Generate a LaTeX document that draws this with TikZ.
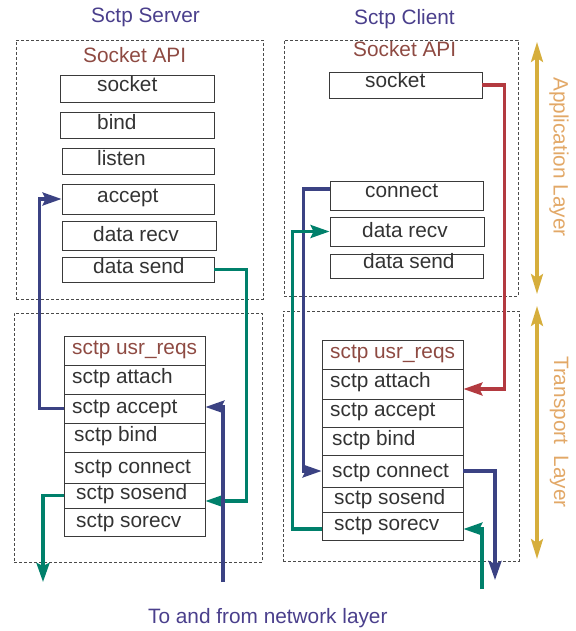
\documentclass[tikz,border=0pt]{standalone}
\usepackage{fontspec}
\setmainfont{Liberation Sans}
\usetikzlibrary{fit,arrows.meta}

\definecolor{titleblue}{HTML}{4A3F8C}
\definecolor{apired}{HTML}{8E4A42}
\definecolor{navyline}{HTML}{3B4283}
\definecolor{greenline}{HTML}{00806B}
\definecolor{redline}{HTML}{B33A40}
\definecolor{goldline}{HTML}{D6AE3C}
\definecolor{layertext}{HTML}{E2A867}
\definecolor{textgray}{HTML}{333333}
\definecolor{boxgray}{HTML}{3A3A3A}
\definecolor{dashgray}{HTML}{4A4A4A}

\begin{document}
\begin{tikzpicture}[x=1pt,y=-1pt,
  every node/.style={font=\fontsize{20.8}{24}\selectfont},
  txt/.style={anchor=base west, inner sep=0pt, text=textgray},
  apibox/.style={draw=boxgray, line width=0.9pt, inner sep=0pt},
  rowbox/.style={draw=boxgray, line width=0.9pt, inner sep=0pt},
  layerbox/.style={draw=dashgray, dash pattern=on 3pt off 2pt, line width=0.8pt, inner sep=0pt},
  conn/.style={line width=3.2pt, -{Stealth[length=19pt,width=13pt,inset=3pt]}},
  navyconn/.style={conn, draw=navyline},
  greenconn/.style={conn, draw=greenline},
  redconn/.style={conn, draw=redline},
  goldarrow/.style={line width=3.2pt, draw=goldline,
    {Stealth[length=20pt,width=12pt,inset=4pt]}-{Stealth[length=20pt,width=12pt,inset=4pt]}},
  layerlabel/.style={rotate=-90, text=layertext, inner sep=0pt}
]
\useasboundingbox (0,0) rectangle (575,631);

% ---------- titles ----------
\node[txt, text=titleblue] (srvTitle) at (91,23) {Sctp Server};
\node[txt, text=titleblue] (cliTitle) at (354,25) {Sctp Client};

% ---------- layer frames ----------
\node[layerbox, fit={(16,40) (263,299)}] (srvApp) {};
\node[layerbox, fit={(14,313) (262,562)}] (srvTr) {};
\node[layerbox, fit={(284,40) (518,296)}] (cliApp) {};
\node[layerbox, fit={(283,311) (519,561)}] (cliTr) {};

\node[txt, text=apired] (srvApi) at (83,63) {Socket API};
\node[txt, text=apired] (cliApi) at (353,57) {Socket API};

% ---------- server socket calls ----------
\node[apibox, fit={(60,75) (214,102)}] (aSocket) {};
\node[txt] (aSocketT) at (97,92) {socket};
\node[apibox, fit={(60,112) (214,138)}] (aBind) {};
\node[txt] (aBindT) at (97,130) {bind};
\node[apibox, fit={(62,148) (214,174)}] (aListen) {};
\node[txt] (aListenT) at (97,166) {listen};
\node[apibox, fit={(62,184) (214,214)}] (aAccept) {};
\node[txt] (aAcceptT) at (97,202) {accept};
\node[apibox, fit={(62,221) (216,250)}] (aRecv) {};
\node[txt] (aRecvT) at (93,241) {data recv};
\node[apibox, fit={(62,257) (214,282)}] (aSend) {};
\node[txt] (aSendT) at (93,273) {data send};

% ---------- client socket calls ----------
\node[apibox, fit={(329,72) (482,98)}] (bSocket) {};
\node[txt] (bSocketT) at (365,88) {socket};
\node[apibox, fit={(330,181) (483,210)}] (bConnect) {};
\node[txt] (bConnectT) at (365,197) {connect};
\node[apibox, fit={(330,217) (484,246)}] (bRecv) {};
\node[txt] (bRecvT) at (362,237) {data recv};
\node[apibox, fit={(330,254) (483,278)}] (bSend) {};
\node[txt] (bSendT) at (363,268) {data send};

% ---------- server transport stack ----------
\node[rowbox, fit={(64,336) (205,365)}] (sReq) {};
\node[rowbox, fit={(64,365) (205,394)}] (sAttach) {};
\node[rowbox, fit={(64,394) (205,423)}] (sAccept) {};
\node[rowbox, fit={(64,423) (205,452)}] (sBind) {};
\node[rowbox, fit={(64,452) (205,483)}] (sConnect) {};
\node[rowbox, fit={(64,483) (205,508)}] (sSosend) {};
\node[rowbox, fit={(64,508) (205,536)}] (sSorecv) {};
\node[txt, text=apired] (sReqT) at (72,354) {sctp usr\_reqs};
\node[txt] (sAttachT) at (72,383) {sctp attach};
\node[txt] (sAcceptT) at (72,413) {sctp accept};
\node[txt] (sBindT) at (74,441) {sctp bind};
\node[txt] (sConnectT) at (74,473) {sctp connect};
\node[txt] (sSosendT) at (76,499) {sctp sosend};
\node[txt] (sSorecvT) at (76,527) {sctp sorecv};

% ---------- client transport stack ----------
\node[rowbox, fit={(322,340) (463,369)}] (cReq) {};
\node[rowbox, fit={(322,369) (463,399)}] (cAttach) {};
\node[rowbox, fit={(322,399) (463,427)}] (cAccept) {};
\node[rowbox, fit={(322,427) (463,455)}] (cBind) {};
\node[rowbox, fit={(322,455) (463,487)}] (cConnect) {};
\node[rowbox, fit={(322,487) (463,512)}] (cSosend) {};
\node[rowbox, fit={(322,512) (463,540)}] (cSorecv) {};
\node[txt, text=apired] (cReqT) at (330,358) {sctp usr\_reqs};
\node[txt] (cAttachT) at (330,387) {sctp attach};
\node[txt] (cAcceptT) at (330,416) {sctp accept};
\node[txt] (cBindT) at (332,445) {sctp bind};
\node[txt] (cConnectT) at (332,477) {sctp connect};
\node[txt] (cSosendT) at (334,504) {sctp sosend};
\node[txt] (cSorecvT) at (334,530) {sctp sorecv};

% ---------- open ends towards the network layer ----------
\coordinate (sOut) at (43,582);
\coordinate (sIn) at (223,582);
\coordinate (cOut) at (495,580);
\coordinate (cIn) at (482,589);

% ---------- server connectors ----------
\draw[navyconn] (sAccept.west) -- ++(-24,0) |- (aAccept.west);
\draw[greenconn] (aSend.east) -| ([xshift=41pt,yshift=-5.5pt]sSosend.east)
  -- ([yshift=-5.5pt]sSosend.east);
\draw[greenconn] (sSosend.west) -| (sOut);
\draw[navyconn] (sIn) |- ([yshift=1.5pt]sAccept.east);

% ---------- client connectors ----------
\draw[redconn] (bSocket.east) -| ([xshift=41pt,yshift=-5pt]cAttach.east)
  -- ([yshift=-5pt]cAttach.east);
\draw[navyconn] ([yshift=6.5pt]bConnect.west) -| ([xshift=-18pt]cConnect.west)
  -- (cConnect.west);
\draw[greenconn] ([yshift=-3pt]cSorecv.west) -| ([xshift=-37pt]bRecv.west)
  -- (bRecv.west);
\draw[navyconn] (cConnect.east) -| (cOut);
\draw[greenconn] (cIn) |- ([yshift=-3pt]cSorecv.east);

% ---------- layer markers ----------
\coordinate (appTop) at (537,42);
\coordinate (appBot) at (537,294);
\coordinate (trTop) at (537,306);
\coordinate (trBot) at (537,559);
\draw[goldarrow] (appTop) -- (appBot);
\draw[goldarrow] (trTop) -- (trBot);
\node[layerlabel] (appLabel) at (559,157) {Application Layer};
\node[layerlabel] (trLabel) at (559,432) {Transport~~Layer};

% ---------- footer ----------
\node[txt, text=titleblue] (netLabel) at (148,623) {To and from network layer};
\end{tikzpicture}
\end{document}
